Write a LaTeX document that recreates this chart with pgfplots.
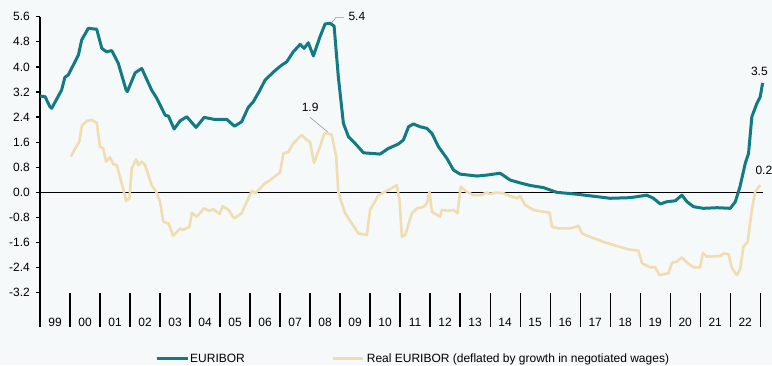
\documentclass[border=0pt]{standalone}
\usepackage{pgfplots}
\pgfplotsset{compat=1.18}
\usepackage{fontspec}
\setmainfont{Liberation Sans}
\definecolor{bg}{RGB}{245,249,250}
\definecolor{eur}{RGB}{18,122,131}
\definecolor{real}{RGB}{240,221,178}
\definecolor{lead}{RGB}{150,150,150}
\begin{document}
\fontsize{12}{14}\selectfont
\begin{tikzpicture}[x=1pt,y=1pt]
\fill[bg] (0,0) rectangle (772,365);
\begin{axis}[
  at={(40pt,348.3pt)}, anchor=north west,
  scale only axis, width=723pt, height=310.5pt,
  xmin=1999, xmax=2023.1, ymin=-4.3, ymax=5.6,
  clip=false,
  axis x line*=bottom, axis y line*=left,
  x axis line style={draw=none},
  y axis line style={black, line width=1.3pt},
  xtick={1999.5,2000.5,...,2022.5},
  xticklabels={99,00,01,02,03,04,05,06,07,08,09,10,11,12,13,14,15,16,17,18,19,20,21,22},
  xtick style={draw=none},
  xticklabel style={anchor=base, yshift=4.6pt, font=\fontsize{12}{14}\selectfont},
  ytick={-3.2,-2.4,...,5.61},
  yticklabel style={xshift=-2pt, font=\fontsize{12}{14}\selectfont},
  ytick style={black, line width=1.3pt},
  tick align=outside, major tick length=4pt,
  yticklabel={\pgfmathprintnumber[fixed, fixed zerofill, precision=1]{\tick}},
  /pgf/number format/assume math mode=true,
]
% year separators and zero line
\foreach \yr in {2000,...,2023} {
  \edef\tmp{\noexpand\draw[black, line width=1.3pt] (axis cs:\yr,-3.2) -- (axis cs:\yr,-4.3);}
  \tmp
}
\draw[black, line width=1.3pt] (axis cs:1999,0) -- (axis cs:2023.1,0);
\addplot[real, line width=2.6pt, line join=round] coordinates {
(2000.03,1.14)(2000.17,1.40)(2000.31,1.61)(2000.39,2.11)(2000.56,2.28)(2000.72,2.31)(2000.89,2.22)
(2001.00,1.45)(2001.11,1.40)(2001.20,0.98)(2001.33,1.12)(2001.44,0.90)(2001.56,0.87)(2001.72,0.29)
(2001.78,0.07)(2001.87,-0.27)(2001.98,-0.19)(2002.06,0.77)(2002.20,1.05)(2002.28,0.87)(2002.39,0.98)
(2002.50,0.87)(2002.72,0.23)(2002.87,0.02)(2003.00,-0.30)(2003.11,-0.94)(2003.28,-0.99)(2003.44,-1.39)
(2003.67,-1.15)(2003.76,-1.20)(2003.98,-1.10)(2004.06,-0.65)(2004.22,-0.78)(2004.47,-0.51)(2004.64,-0.59)
(2004.78,-0.54)(2004.98,-0.69)(2005.09,-0.44)(2005.28,-0.56)(2005.47,-0.83)(2005.72,-0.67)(2005.89,-0.30)
(2006.06,0.05)(2006.17,-0.03)(2006.33,0.13)(2006.50,0.29)(2006.67,0.39)(2007.00,0.63)(2007.11,1.24)
(2007.28,1.29)(2007.44,1.56)(2007.72,1.83)(2007.89,1.67)(2008.00,1.61)(2008.13,0.94)(2008.33,1.45)
(2008.47,1.88)(2008.58,1.88)(2008.72,1.83)(2008.87,1.14)(2008.94,0.02)(2009.00,-0.19)(2009.17,-0.67)
(2009.39,-0.99)(2009.61,-1.31)(2009.89,-1.36)(2010.00,-0.56)(2010.28,-0.09)(2010.50,0.02)(2010.72,0.13)
(2010.89,0.23)(2010.98,-0.25)(2011.06,-1.42)(2011.17,-1.36)(2011.39,-0.67)(2011.56,-0.51)(2011.78,-0.46)
(2011.89,-0.35)(2011.98,0.02)(2012.06,-0.62)(2012.33,-0.78)(2012.39,-0.56)(2012.61,-0.59)(2012.78,-0.56)
(2012.91,-0.67)(2013.02,0.18)(2013.22,0.02)(2013.44,-0.09)(2013.67,-0.09)(2013.89,-0.01)(2014.00,-0.05)
(2014.22,-0.01)(2014.44,-0.03)(2014.67,-0.12)(2014.89,-0.19)(2015.00,-0.12)(2015.17,-0.41)(2015.44,-0.56)
(2015.78,-0.62)(2015.98,-0.65)(2016.06,-1.10)(2016.28,-1.15)(2016.67,-1.15)(2016.94,-1.07)(2017.06,-1.31)
(2017.33,-1.42)(2017.78,-1.58)(2018.22,-1.71)(2018.61,-1.82)(2018.94,-1.86)(2019.06,-2.26)(2019.33,-2.39)
(2019.50,-2.39)(2019.64,-2.64)(2019.94,-2.58)(2020.06,-2.24)(2020.22,-2.21)(2020.39,-2.07)(2020.56,-2.24)
(2020.78,-2.39)(2021.00,-2.39)(2021.09,-1.93)(2021.22,-2.05)(2021.67,-2.03)(2021.78,-1.95)(2021.94,-1.97)
(2022.06,-2.42)(2022.22,-2.64)(2022.33,-2.46)(2022.44,-1.73)(2022.58,-1.58)(2022.72,-0.56)(2022.83,0.02)
(2023.00,0.23)
};
\addplot[eur, line width=3pt, line join=round] coordinates {
(1999.00,3.07)(1999.17,3.05)(1999.33,2.73)(1999.39,2.68)(1999.72,3.26)(1999.83,3.67)(1999.94,3.74)
(2000.28,4.38)(2000.39,4.86)(2000.61,5.23)(2000.89,5.20)(2001.06,4.59)(2001.22,4.48)(2001.39,4.52)
(2001.50,4.32)(2001.61,4.11)(2001.87,3.26)(2001.91,3.21)(2002.17,3.81)(2002.39,3.95)(2002.72,3.26)
(2002.89,3.00)(2003.17,2.46)(2003.28,2.43)(2003.47,2.02)(2003.67,2.28)(2003.89,2.41)(2004.20,2.07)
(2004.47,2.39)(2004.78,2.33)(2005.22,2.33)(2005.48,2.11)(2005.72,2.25)(2005.94,2.71)(2006.11,2.89)
(2006.33,3.26)(2006.50,3.58)(2006.83,3.88)(2007.06,4.06)(2007.22,4.16)(2007.44,4.48)(2007.67,4.72)
(2007.80,4.59)(2007.94,4.77)(2008.11,4.35)(2008.33,4.96)(2008.50,5.37)(2008.67,5.39)(2008.80,5.30)
(2008.94,3.69)(2009.11,2.20)(2009.28,1.77)(2009.50,1.56)(2009.78,1.26)(2010.33,1.22)(2010.61,1.40)
(2010.94,1.54)(2011.11,1.67)(2011.28,2.09)(2011.44,2.18)(2011.67,2.09)(2011.89,2.04)(2012.06,1.88)
(2012.28,1.45)(2012.56,1.08)(2012.78,0.71)(2013.00,0.58)(2013.56,0.52)(2013.89,0.55)(2014.33,0.61)
(2014.67,0.39)(2015.00,0.30)(2015.33,0.22)(2015.78,0.15)(2016.22,0.00)(2016.89,-0.06)(2018.00,-0.19)
(2018.67,-0.17)(2019.22,-0.09)(2019.44,-0.19)(2019.67,-0.37)(2019.89,-0.30)(2020.17,-0.27)(2020.39,-0.09)
(2020.56,-0.30)(2020.78,-0.46)(2021.11,-0.51)(2021.56,-0.49)(2022.00,-0.51)(2022.17,-0.30)(2022.33,0.20)
(2022.50,0.92)(2022.61,1.24)(2022.72,2.41)(2022.89,2.84)(2023.00,3.05)(2023.08,3.49)
};
% annotations
\draw[lead, line width=0.6pt] (axis cs:2008.72,5.41) -- (axis cs:2008.87,5.58) -- (axis cs:2009.13,5.58);
\node[anchor=center, inner sep=0pt] at (axis cs:2009.56,5.60) {5.4};
\draw[lead, line width=0.6pt] (axis cs:2008.0,2.39) -- (axis cs:2008.58,1.93);
\node[anchor=center, inner sep=0pt] at (axis cs:2008.0,2.71) {1.9};
\node[anchor=center, inner sep=0pt] at (axis cs:2022.97,3.87) {3.5};
\node[anchor=center, inner sep=0pt] at (axis cs:2023.12,0.69) {0.2};
\end{axis}
% legend
\draw[eur, line width=3pt] (156.7,6.7) -- (187.7,6.7);
\node[anchor=base west, inner sep=0pt] at (190,2.3) {EURIBOR};
\draw[real, line width=3pt] (333.3,6.7) -- (363.3,6.7);
\node[anchor=base west, inner sep=0pt] at (366.7,2.3) {Real EURIBOR (deflated by growth in negotiated wages)};
\pgfresetboundingbox
\useasboundingbox (0,0) rectangle (772,365);
\end{tikzpicture}
\end{document}
